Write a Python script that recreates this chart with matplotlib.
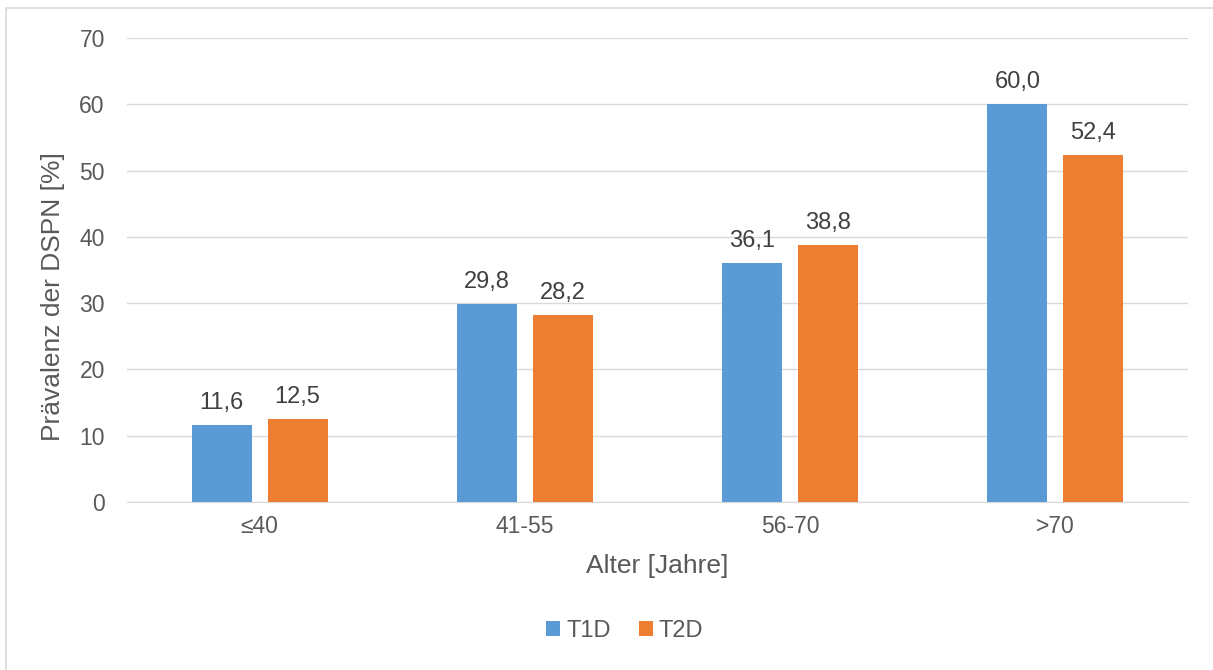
import matplotlib.pyplot as plt
from matplotlib.patches import Rectangle
import numpy as np

categories = ['≤40', '41-55', '56-70', '>70']
t1d = [11.6, 29.8, 36.1, 60.0]
t2d = [12.5, 28.2, 38.8, 52.4]
series_names = ['T1D', 'T2D']

plt.rcParams['font.family'] = ['Liberation Sans', 'DejaVu Sans']
text_col = '#595959'
colors = ['#5B9BD5', '#ED7D31']

fig = plt.figure(figsize=(12.13, 6.70), dpi=100)
ax = fig.add_axes([0.1047, 0.2507, 0.8747, 0.6926])

x = np.arange(len(categories))
w = 0.226
off = 0.143
bars = []
for vals, name, c, o in zip([t1d, t2d], series_names, colors, [-off, off]):
    b = ax.bar(x + o, vals, w, color=c, label=name, zorder=3)
    bars.append(b)
    for xi, v in zip(x + o, vals):
        ax.annotate(f'{v:.1f}'.replace('.', ','), (xi, v), xytext=(0, 8),
                    textcoords='offset points', ha='center', va='bottom',
                    fontsize=17, color='#404040')

ax.set_xlim(-0.5, 3.5)
ax.set_ylim(0, 70)
ax.set_yticks(range(0, 71, 10))
ax.set_xticks(x)
ax.set_xticklabels(categories)
ax.grid(axis='y', color='#D9D9D9', linewidth=1, zorder=0)
for s in ['top', 'right', 'left']:
    ax.spines[s].set_visible(False)
ax.spines['bottom'].set_color('#D9D9D9')
ax.tick_params(axis='both', length=0, labelsize=16.5, colors=text_col)
ax.tick_params(axis='y', pad=16)
ax.tick_params(axis='x', pad=9)

ax.set_xlabel('Alter [Jahre]', fontsize=19, color=text_col, labelpad=12)
ax.set_ylabel('Prävalenz der DSPN [%]', fontsize=19, color=text_col, labelpad=10)
ax.yaxis.label.set_y(0.442)

fig.legend(handles=bars, labels=series_names, loc='center', bbox_to_anchor=(0.515, 0.058),
           ncol=2, frameon=False, fontsize=17, handlelength=0.6, handleheight=0.6,
           handletextpad=0.25, columnspacing=1.2, labelcolor=text_col)

fig.patches.append(Rectangle((0.005, -0.01), 1.1, 0.998, transform=fig.transFigure,
                             fill=False, edgecolor='#D9D9D9', linewidth=1.2))

fig.savefig('out.png', dpi=100)
